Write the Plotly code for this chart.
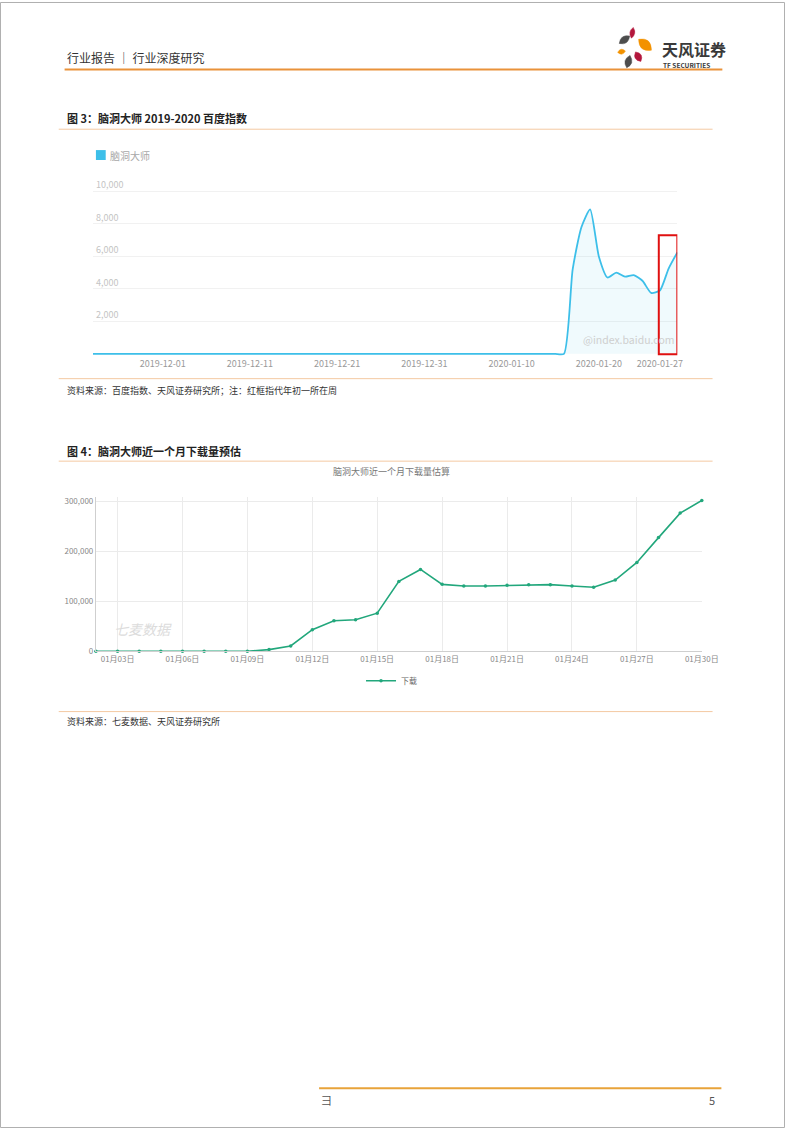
import math
import pandas as pd
import plotly.graph_objects as go

W, H = 802, 1133
FONT = "Noto Sans CJK SC"

# ---------------- data ----------------
baidu_dates = pd.date_range("2019-11-23", "2020-01-29", freq="D")
baidu_values = [0] * 55 + [5200, 7800, 8900, 6000, 4700, 5000, 4750, 4850, 4500, 3750, 3900, 5250, 6250]
baidu_ticks = ["2019-12-01", "2019-12-11", "2019-12-21", "2019-12-31", "2020-01-10", "2020-01-20", "2020-01-27"]
baidu_yticks = [2000, 4000, 6000, 8000, 10000]

dl_dates = pd.date_range("2020-01-02", "2020-01-30", freq="D")
dl_values = [0, 0, 0, 0, 0, 0, 0, 0, 3300, 10600, 43200, 61100, 63100, 76400, 140000, 164000,
             134100, 130800, 130800, 132100, 133500, 133500, 130800, 128200, 142800, 178000,
             227800, 276900, 302100]
dl_ticks = pd.date_range("2020-01-03", "2020-01-30", freq="3D")
dl_ticktext = [d.strftime("%m月%d日") for d in dl_ticks]
dl_yticks = [0, 100000, 200000, 300000]


def px(x):
    return x / W


def py(y):
    return 1 - y / H


fig = go.Figure()

# chart 1 : baidu index
fig.add_trace(go.Scatter(
    x=baidu_dates, y=baidu_values, mode="lines", name="脑洞大师",
    line=dict(color="#3dbfe9", width=1.8, shape="spline", smoothing=0.6),
    fill="tozeroy", fillcolor="rgba(61,191,233,0.08)", showlegend=False, xaxis="x", yaxis="y", hoverinfo="skip"))

# chart 2 : downloads
fig.add_trace(go.Scatter(
    x=dl_dates, y=dl_values, mode="lines+markers", name="下载",
    line=dict(color="#22a77c", width=1.6), marker=dict(size=3.5, color="#22a77c"),
    xaxis="x2", yaxis="y2", cliponaxis=False))

# y1: 0 at px 354, 32.67 px per 2000
v_per_px = 2000 / 32.67
y1_bot, y1_top = 357, 168
fig.update_layout(
    width=W, height=H, margin=dict(l=0, r=0, t=0, b=0),
    paper_bgcolor="white", plot_bgcolor="rgba(0,0,0,0)",
    font=dict(family=FONT, color="#333"),
    xaxis=dict(domain=[px(95), px(692)], range=[baidu_dates[0], baidu_dates[-1]], type="date",
               tickvals=baidu_ticks, ticktext=baidu_ticks, showgrid=False, showline=False, zeroline=False,
               ticks="", tickfont=dict(size=9, color="#999"), anchor="y"),
    yaxis=dict(domain=[py(y1_bot), py(y1_top)],
               range=[-(y1_bot - 354) * v_per_px, (354 - y1_top) * v_per_px],
               tickvals=baidu_yticks, tickformat=",", ticklabelposition="inside top",
               showgrid=True, gridcolor="#f1f1f1", gridwidth=1, zeroline=False, showline=False,
               ticks="", tickfont=dict(size=9, color="#c4c4c4"), anchor="x"),
    xaxis2=dict(domain=[px(98), px(717)], range=[dl_dates[0], dl_dates[-1]], type="date",
                tickvals=dl_ticks, ticktext=dl_ticktext, showgrid=True, gridcolor="#ebebeb",
                showline=True, linecolor="#cfcfcf", linewidth=1, zeroline=False, ticks="",
                tickfont=dict(size=8, color="#888"), anchor="y2"),
    yaxis2=dict(domain=[py(653.3), py(498)], range=[0, 300000 + 4.7 / 50.2 * 100000],
                tickvals=dl_yticks, tickformat=",", showgrid=True, gridcolor="#ebebeb",
                showline=True, linecolor="#cfcfcf", linewidth=1, zeroline=False, ticks="",
                tickfont=dict(size=8, color="#888"), anchor="x2"),
    showlegend=True,
    legend=dict(x=px(400), y=py(683), xanchor="center", yanchor="middle", orientation="h",
                font=dict(size=8, color="#666"), bgcolor="rgba(0,0,0,0)"),
)

shapes = []
# page border
shapes.append(dict(type="rect", xref="paper", yref="paper", x0=px(0.5), x1=px(801.5), y0=py(1132.5), y1=py(0.5),
                   line=dict(color="#b0b0b0", width=1)))
# header line
shapes.append(dict(type="line", xref="paper", yref="paper", x0=px(66), x1=px(738), y0=py(68), y1=py(68),
                   line=dict(color="#e9923a", width=2)))
# section lines
for yy in (128, 379, 462, 714):
    shapes.append(dict(type="line", xref="paper", yref="paper", x0=px(60), x1=px(728), y0=py(yy), y1=py(yy),
                       line=dict(color="#f4c9a2", width=1)))
# footer line
shapes.append(dict(type="line", xref="paper", yref="paper", x0=px(326), x1=px(737), y0=py(1093), y1=py(1093),
                   line=dict(color="#e8a33a", width=2)))
# legend square for chart 1
shapes.append(dict(type="rect", xref="paper", yref="paper", x0=px(98), x1=px(108), y0=py(159), y1=py(149),
                   fillcolor="#3dbfe9", line=dict(width=0)))
# red box on chart 1 (week of lunar new year)
shapes.append(dict(type="rect", xref="x", yref="y", x0="2020-01-26 21:00", x1="2020-01-29 00:00",
                   y0=-20, y1=7300, line=dict(color="#e01010", width=2)))


def leaf(cx, cy, length, width, ang, color):
    a = math.radians(ang)
    ux, uy = math.cos(a), -math.sin(a)
    nx, ny = -uy, ux
    x0, y0 = cx - ux * length / 2, cy - uy * length / 2
    x1, y1 = cx + ux * length / 2, cy + uy * length / 2
    c1x, c1y = cx + nx * width, cy + ny * width
    c2x, c2y = cx - nx * width, cy - ny * width
    path = (f"M {px(x0)},{py(y0)} Q {px(c1x)},{py(c1y)} {px(x1)},{py(y1)} "
            f"Q {px(c2x)},{py(c2y)} {px(x0)},{py(y0)} Z")
    return dict(type="path", xref="paper", yref="paper", path=path, fillcolor=color,
                line=dict(color=color, width=0.5))


shapes += [
    leaf(638, 38, 13, 7, 35, "#4d4d4d"),
    leaf(646, 31, 11, 5, 80, "#b3173c"),
    leaf(659, 43, 17, 10, -40, "#f39200"),
    leaf(635, 50, 8, 5, 10, "#f39200"),
    leaf(652, 55, 11, 7, -60, "#b3173c"),
    leaf(642, 60, 13, 7, 75, "#4d4d4d"),
]
fig.update_layout(shapes=shapes)


def txt(x, y, s, size, color="#333", anchor="left", bold=False, italic=False):
    if bold:
        s = f"<b>{s}</b>"
    if italic:
        s = f"<i>{s}</i>"
    return dict(x=px(x), y=py(y), xref="paper", yref="paper", text=s, showarrow=False,
                xanchor=anchor, yanchor="middle", font=dict(size=size, color=color, family=FONT))


annotations = [
    txt(66, 56, "行业报告 ｜ 行业深度研究", 12, "#333"),
    txt(674, 47, "天风证券", 16, "#3a3a3a", bold=True),
    txt(675, 63, "TF SECURITIES", 6.5, "#3a3a3a", bold=True),
    txt(66, 117, "图 3：脑洞大师 2019-2020 百度指数", 11, "#222", bold=True),
    txt(110, 154, "脑洞大师", 10, "#a8a8a8"),
    txt(66, 391, "资料来源：百度指数、天风证券研究所；注：红框指代年初一所在周", 9, "#333"),
    txt(66, 452, "图 4：脑洞大师近一个月下载量预估", 11, "#222", bold=True),
    txt(400, 472, "脑洞大师近一个月下载量估算", 9, "#777", anchor="center"),
    txt(66, 724, "资料来源：七麦数据、天风证券研究所", 9, "#333"),
    txt(643, 340, "@index.baidu.com", 10.5, "#cfcfcf", anchor="center"),
    txt(146, 631, "七麦数据", 14, "#dcdcdc", anchor="center", italic=True),
    txt(326, 1105, "彐", 11, "#555"),
    txt(733, 1105, "5", 11, "#555", anchor="right"),
]
fig.update_layout(annotations=annotations)

post_js = ("var s=document.createElement('style');"
           "s.textContent='html,body{margin:0;padding:0;overflow:hidden;}';"
           "document.head.appendChild(s);"
           "var gd=document.getElementById('{plot_id}');"
           "var w=document.documentElement.clientWidth||window.innerWidth;"
           "var h=document.documentElement.clientHeight||window.innerHeight;"
           "if(w>0&&h>0&&(w!=802||h!=1133)){Plotly.relayout(gd,{width:w,height:h});}")
fig.write_html("out.html", config={"displayModeBar": False}, post_script=post_js)
